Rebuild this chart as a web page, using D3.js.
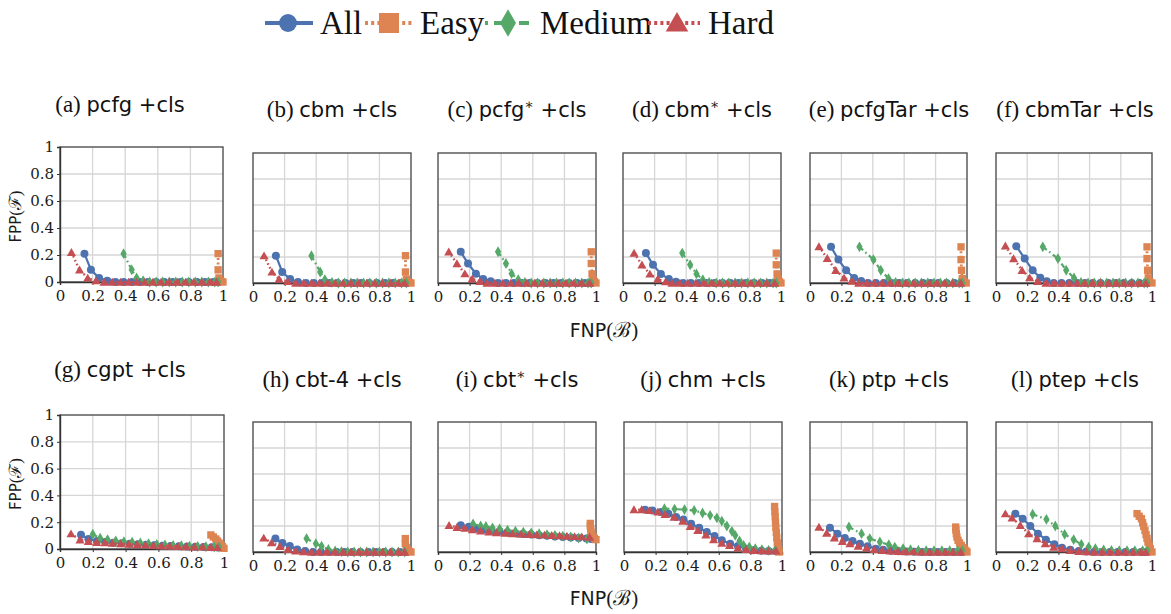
<!DOCTYPE html>
<html>
<head>
<meta charset="utf-8">
<script src="https://cdn.jsdelivr.net/npm/d3@7"></script>
<style>
  body { margin: 0; background: #fff; }
  svg { display: block; }
</style>
</head>
<body>
<svg id="chart" width="1171" height="614"></svg>
<script>
// ---- data -------------------------------------------------------------
const seriesNames = ["All", "Easy", "Medium", "Hard"];
const seriesColors = ["#4C72B0", "#DD8452", "#55A868", "#C44E52"];

const panelLabels = ["(a)", "(b)", "(c)", "(d)", "(e)", "(f)", "(g)", "(h)", "(i)", "(j)", "(k)", "(l)"];
const panelModels = ["pcfg", "cbm", "pcfg", "cbm", "pcfgTar", "cbmTar", "cgpt", "cbt-4", "cbt", "chm", "ptp", "ptep"];
const panelStars = [false, false, true, true, false, false, false, false, true, false, false, false];
const panelSuffix = " +cls";

const tickValues = [0, 0.2, 0.4, 0.6, 0.8, 1];
const tickLabels = ["0", "0.2", "0.4", "0.6", "0.8", "1"];

// each entry: list of [FNP, FPP] points for one panel
const allPoints = [
  [[0.15,0.21],[0.19,0.09],[0.24,0.03],[0.29,0.01],[0.34,0],[0.39,0],[0.44,0],[0.49,0],[0.54,0],[0.59,0],[0.64,0],[0.69,0],[0.74,0],[0.79,0],[0.84,0],[0.89,0],[0.94,0],[0.97,0]],
  [[0.145,0.21],[0.185,0.085],[0.235,0.03],[0.285,0.008],[0.335,0],[0.385,0],[0.435,0],[0.485,0],[0.535,0],[0.585,0],[0.635,0],[0.685,0],[0.735,0],[0.785,0],[0.835,0],[0.885,0],[0.935,0],[0.97,0]],
  [[0.144,0.24],[0.19,0.15],[0.24,0.072],[0.286,0.031],[0.333,0.013],[0.38,0],[0.43,0],[0.48,0],[0.53,0],[0.58,0],[0.63,0],[0.68,0],[0.73,0],[0.78,0],[0.83,0],[0.88,0],[0.93,0],[0.97,0]],
  [[0.145,0.23],[0.19,0.14],[0.24,0.07],[0.29,0.03],[0.335,0.01],[0.38,0],[0.43,0],[0.48,0],[0.53,0],[0.58,0],[0.63,0],[0.68,0],[0.73,0],[0.78,0],[0.83,0],[0.88,0],[0.93,0],[0.97,0]],
  [[0.134,0.278],[0.181,0.18],[0.23,0.098],[0.281,0.039],[0.326,0.015],[0.37,0],[0.42,0],[0.47,0],[0.52,0],[0.57,0],[0.62,0],[0.67,0],[0.72,0],[0.77,0],[0.82,0],[0.87,0],[0.92,0],[0.965,0]],
  [[0.13,0.283],[0.184,0.188],[0.235,0.098],[0.284,0.041],[0.325,0.013],[0.37,0],[0.42,0],[0.47,0],[0.52,0],[0.57,0],[0.62,0],[0.67,0],[0.72,0],[0.77,0],[0.82,0],[0.87,0],[0.92,0],[0.965,0]],
  [[0.128,0.107],[0.173,0.074],[0.225,0.06],[0.275,0.052],[0.325,0.047],[0.375,0.043],[0.425,0.04],[0.475,0.036],[0.525,0.032],[0.575,0.028],[0.625,0.025],[0.675,0.022],[0.725,0.02],[0.775,0.018],[0.825,0.016],[0.875,0.015],[0.925,0.013],[0.96,0.012]],
  [[0.142,0.103],[0.186,0.069],[0.233,0.046],[0.28,0.02],[0.33,0.007],[0.38,0],[0.43,0],[0.48,0],[0.53,0],[0.58,0],[0.63,0],[0.68,0],[0.73,0],[0.78,0],[0.83,0],[0.88,0],[0.93,0],[0.97,0]],
  [[0.144,0.205],[0.195,0.195],[0.244,0.18],[0.29,0.172],[0.34,0.164],[0.39,0.157],[0.44,0.15],[0.49,0.144],[0.54,0.139],[0.59,0.134],[0.64,0.129],[0.69,0.125],[0.74,0.12],[0.79,0.116],[0.84,0.112],[0.89,0.108],[0.94,0.104],[0.97,0.1]],
  [[0.133,0.326],[0.18,0.32],[0.233,0.308],[0.281,0.295],[0.33,0.269],[0.376,0.251],[0.425,0.218],[0.476,0.187],[0.524,0.154],[0.573,0.123],[0.619,0.09],[0.672,0.064],[0.721,0.046],[0.772,0.026],[0.82,0.013],[0.87,0.01],[0.915,0.008],[0.962,0.008]],
  [[0.127,0.187],[0.174,0.141],[0.222,0.108],[0.271,0.085],[0.318,0.064],[0.367,0.044],[0.419,0.026],[0.466,0.018],[0.515,0.01],[0.565,0.006],[0.615,0.004],[0.665,0.002],[0.715,0],[0.765,0],[0.815,0],[0.865,0],[0.915,0],[0.96,0]],
  [[0.124,0.295],[0.171,0.256],[0.22,0.2],[0.269,0.141],[0.32,0.095],[0.374,0.059],[0.423,0.033],[0.476,0.018],[0.53,0.008],[0.58,0.004],[0.63,0.002],[0.68,0],[0.73,0],[0.78,0],[0.83,0],[0.88,0],[0.93,0],[0.96,0]]
];

const easyPoints = [
  [[0.97,0.21],[0.97,0.09],[0.975,0.03],[0.98,0.01],[0.99,0.003],[1.0,0]],
  [[0.965,0.21],[0.965,0.085],[0.97,0.03],[0.98,0.01],[0.99,0.003],[1.0,0]],
  [[0.97,0.24],[0.97,0.15],[0.975,0.07],[0.98,0.03],[0.99,0.01],[1.0,0]],
  [[0.97,0.23],[0.97,0.14],[0.975,0.07],[0.98,0.03],[0.99,0.01],[1.0,0]],
  [[0.962,0.278],[0.962,0.18],[0.965,0.098],[0.97,0.034],[0.98,0.01],[0.995,0]],
  [[0.968,0.278],[0.968,0.188],[0.972,0.098],[0.976,0.039],[0.985,0.01],[1.0,0]],
  [[0.92,0.105],[0.935,0.09],[0.95,0.075],[0.96,0.06],[0.97,0.045],[0.98,0.03],[0.99,0.018],[1.0,0.005]],
  [[0.964,0.103],[0.964,0.064],[0.97,0.035],[0.98,0.015],[0.99,0.004],[1.0,0]],
  [[0.964,0.22],[0.964,0.2],[0.966,0.18],[0.968,0.16],[0.972,0.14],[0.98,0.12],[0.99,0.105],[1.0,0.095]],
  [[0.953,0.35],[0.955,0.31],[0.957,0.27],[0.959,0.23],[0.961,0.19],[0.964,0.15],[0.967,0.11],[0.97,0.07],[0.974,0.04],[0.978,0.015],[0.982,0]],
  [[0.928,0.192],[0.929,0.17],[0.932,0.141],[0.936,0.115],[0.943,0.09],[0.952,0.07],[0.964,0.051],[0.975,0.033],[0.985,0.018],[0.993,0.008],[1.0,0]],
  [[0.904,0.295],[0.918,0.275],[0.932,0.256],[0.94,0.225],[0.947,0.197],[0.955,0.165],[0.962,0.133],[0.968,0.105],[0.974,0.077],[0.982,0.05],[0.989,0.026],[1.0,0]]
];

const mediumPoints = [
  [[0.39,0.21],[0.44,0.09],[0.47,0.03],[0.51,0.01],[0.55,0],[0.59,0],[0.63,0],[0.67,0],[0.71,0],[0.75,0],[0.79,0],[0.83,0],[0.87,0],[0.91,0],[0.95,0],[0.97,0]],
  [[0.37,0.21],[0.425,0.085],[0.455,0.026],[0.5,0.005],[0.54,0],[0.58,0],[0.62,0],[0.66,0],[0.7,0],[0.74,0],[0.78,0],[0.82,0],[0.86,0],[0.9,0],[0.94,0],[0.97,0]],
  [[0.38,0.24],[0.43,0.15],[0.466,0.072],[0.508,0.026],[0.55,0.005],[0.59,0],[0.63,0],[0.67,0],[0.71,0],[0.75,0],[0.79,0],[0.83,0],[0.87,0],[0.91,0],[0.95,0],[0.97,0]],
  [[0.375,0.23],[0.425,0.14],[0.465,0.07],[0.505,0.025],[0.545,0.005],[0.59,0],[0.63,0],[0.67,0],[0.71,0],[0.75,0],[0.79,0],[0.83,0],[0.87,0],[0.91,0],[0.95,0],[0.97,0]],
  [[0.315,0.278],[0.404,0.18],[0.451,0.098],[0.5,0.034],[0.545,0.005],[0.59,0],[0.63,0],[0.67,0],[0.71,0],[0.75,0],[0.79,0],[0.83,0],[0.87,0],[0.91,0],[0.95,0],[0.97,0]],
  [[0.30,0.278],[0.397,0.188],[0.45,0.098],[0.5,0.039],[0.545,0.005],[0.59,0],[0.63,0],[0.67,0],[0.71,0],[0.75,0],[0.79,0],[0.83,0],[0.87,0],[0.91,0],[0.95,0],[0.97,0]],
  [[0.2,0.11],[0.245,0.08],[0.29,0.07],[0.34,0.06],[0.39,0.055],[0.44,0.05],[0.49,0.045],[0.54,0.04],[0.59,0.035],[0.64,0.03],[0.69,0.027],[0.74,0.024],[0.79,0.021],[0.84,0.019],[0.89,0.017],[0.94,0.015],[0.97,0.014]],
  [[0.339,0.103],[0.398,0.064],[0.434,0.044],[0.477,0.02],[0.52,0.008],[0.56,0.003],[0.6,0],[0.64,0],[0.68,0],[0.72,0],[0.76,0],[0.8,0],[0.84,0],[0.88,0],[0.92,0],[0.96,0]],
  [[0.222,0.215],[0.27,0.2],[0.303,0.197],[0.345,0.185],[0.39,0.178],[0.44,0.168],[0.49,0.16],[0.54,0.153],[0.59,0.146],[0.64,0.14],[0.69,0.134],[0.74,0.128],[0.79,0.122],[0.84,0.116],[0.89,0.108],[0.943,0.1]],
  [[0.256,0.333],[0.32,0.33],[0.383,0.326],[0.444,0.32],[0.497,0.3],[0.545,0.282],[0.588,0.262],[0.619,0.238],[0.651,0.2],[0.683,0.159],[0.704,0.128],[0.731,0.085],[0.757,0.051],[0.793,0.038],[0.831,0.026],[0.873,0.018],[0.915,0.013],[0.958,0.013]],
  [[0.248,0.192],[0.328,0.141],[0.381,0.103],[0.445,0.077],[0.502,0.056],[0.54,0.038],[0.593,0.026],[0.64,0.018],[0.69,0.013],[0.74,0.01],[0.79,0.01],[0.84,0.01],[0.89,0.01],[0.94,0.01],[0.97,0.01]],
  [[0.235,0.29],[0.323,0.251],[0.38,0.2],[0.44,0.136],[0.498,0.095],[0.547,0.059],[0.594,0.038],[0.637,0.026],[0.69,0.015],[0.74,0.012],[0.79,0.01],[0.84,0.01],[0.89,0.01],[0.94,0.01],[0.97,0.01]]
];

const hardPoints = [
  [[0.07,0.22],[0.12,0.09],[0.17,0.03],[0.22,0.01],[0.27,0],[0.32,0],[0.37,0],[0.42,0],[0.47,0],[0.52,0],[0.57,0],[0.62,0],[0.67,0],[0.72,0],[0.77,0],[0.82,0],[0.87,0],[0.92,0],[0.96,0]],
  [[0.07,0.21],[0.12,0.085],[0.165,0.03],[0.22,0.012],[0.27,0],[0.32,0],[0.37,0],[0.42,0],[0.47,0],[0.52,0],[0.57,0],[0.62,0],[0.67,0],[0.72,0],[0.77,0],[0.82,0],[0.87,0],[0.92,0],[0.96,0]],
  [[0.068,0.24],[0.12,0.15],[0.17,0.072],[0.216,0.031],[0.265,0.013],[0.31,0],[0.36,0],[0.41,0],[0.46,0],[0.51,0],[0.56,0],[0.61,0],[0.66,0],[0.71,0],[0.76,0],[0.81,0],[0.86,0],[0.91,0],[0.96,0]],
  [[0.07,0.23],[0.12,0.14],[0.17,0.07],[0.22,0.03],[0.27,0.01],[0.31,0],[0.36,0],[0.41,0],[0.46,0],[0.51,0],[0.56,0],[0.61,0],[0.66,0],[0.71,0],[0.76,0],[0.81,0],[0.86,0],[0.91,0],[0.96,0]],
  [[0.057,0.28],[0.11,0.19],[0.164,0.098],[0.217,0.039],[0.266,0.015],[0.31,0],[0.36,0],[0.41,0],[0.46,0],[0.51,0],[0.56,0],[0.61,0],[0.66,0],[0.71,0],[0.76,0],[0.81,0],[0.86,0],[0.91,0],[0.96,0]],
  [[0.06,0.286],[0.113,0.188],[0.167,0.098],[0.216,0.041],[0.267,0.013],[0.32,0],[0.37,0],[0.42,0],[0.47,0],[0.52,0],[0.57,0],[0.62,0],[0.67,0],[0.72,0],[0.77,0],[0.82,0],[0.87,0],[0.92,0],[0.96,0]],
  [[0.067,0.114],[0.122,0.069],[0.173,0.057],[0.224,0.05],[0.274,0.047],[0.32,0.043],[0.37,0.04],[0.42,0.036],[0.47,0.033],[0.52,0.03],[0.57,0.027],[0.62,0.024],[0.67,0.022],[0.72,0.02],[0.77,0.018],[0.82,0.016],[0.87,0.015],[0.92,0.013],[0.96,0.012]],
  [[0.068,0.108],[0.117,0.072],[0.17,0.044],[0.22,0.02],[0.27,0.008],[0.32,0.003],[0.37,0],[0.42,0],[0.47,0],[0.52,0],[0.57,0],[0.62,0],[0.67,0],[0.72,0],[0.77,0],[0.82,0],[0.87,0],[0.92,0],[0.96,0]],
  [[0.07,0.205],[0.12,0.19],[0.17,0.183],[0.218,0.172],[0.269,0.162],[0.322,0.154],[0.37,0.149],[0.424,0.146],[0.472,0.141],[0.525,0.138],[0.578,0.136],[0.625,0.133],[0.674,0.131],[0.72,0.128],[0.769,0.126],[0.816,0.123],[0.864,0.12],[0.91,0.118],[0.96,0.115]],
  [[0.063,0.326],[0.112,0.326],[0.161,0.32],[0.214,0.308],[0.26,0.29],[0.317,0.269],[0.372,0.238],[0.419,0.197],[0.467,0.167],[0.518,0.131],[0.567,0.095],[0.619,0.069],[0.668,0.051],[0.721,0.031],[0.772,0.02],[0.82,0.013],[0.869,0.01],[0.915,0.008],[0.962,0.008]],
  [[0.057,0.192],[0.106,0.146],[0.155,0.108],[0.206,0.082],[0.254,0.064],[0.307,0.046],[0.36,0.031],[0.409,0.02],[0.46,0.013],[0.51,0.008],[0.56,0.005],[0.61,0.003],[0.66,0.002],[0.71,0],[0.76,0],[0.81,0],[0.86,0],[0.91,0],[0.96,0]],
  [[0.06,0.295],[0.103,0.262],[0.156,0.205],[0.209,0.141],[0.263,0.103],[0.316,0.064],[0.37,0.038],[0.423,0.026],[0.476,0.013],[0.53,0.005],[0.58,0.002],[0.63,0],[0.68,0],[0.73,0],[0.78,0],[0.83,0],[0.88,0],[0.93,0],[0.96,0]]
];

// ---- layout -----------------------------------------------------------
const panelBoxes = [
  { x0: 60,  x1: 223,  y0: 147, y1: 282, yAxis: true,  tx: 120,  ty: 112 },
  { x0: 253, x1: 411,  y0: 153, y1: 283, yAxis: false, tx: 332,  ty: 117 },
  { x0: 438, x1: 596,  y0: 153, y1: 283, yAxis: false, tx: 517,  ty: 117 },
  { x0: 623, x1: 781,  y0: 153, y1: 283, yAxis: false, tx: 702,  ty: 117 },
  { x0: 810, x1: 967,  y0: 153, y1: 283, yAxis: false, tx: 889,  ty: 117 },
  { x0: 996, x1: 1152, y0: 153, y1: 283, yAxis: false, tx: 1075, ty: 117 },
  { x0: 60,  x1: 224,  y0: 415, y1: 549, yAxis: true,  tx: 120,  ty: 377 },
  { x0: 253, x1: 411,  y0: 422, y1: 552, yAxis: false, tx: 332,  ty: 387 },
  { x0: 438, x1: 596,  y0: 422, y1: 552, yAxis: false, tx: 517,  ty: 387 },
  { x0: 624, x1: 782,  y0: 422, y1: 552, yAxis: false, tx: 703,  ty: 387 },
  { x0: 810, x1: 967,  y0: 422, y1: 552, yAxis: false, tx: 889,  ty: 387 },
  { x0: 996, x1: 1152, y0: 422, y1: 552, yAxis: false, tx: 1075, ty: 387 }
];

const seriesData = [allPoints, easyPoints, mediumPoints, hardPoints];
const symbolTypes = [d3.symbolCircle, d3.symbolSquare, d3.symbolDiamond, d3.symbolTriangle];
const markerSizes = [50, 54, 34, 36];
const legendMarkerSizes = [250, 400, 220, 220];
const lineWidths = [2.2, 2.8, 2.2, 2.4];
const dashes = [null, "2,2.4", "5,3,1.6,3", "1.6,2.6"];

const serifFont = "'Liberation Serif', 'DejaVu Serif', serif";
const tickFont = "'DejaVu Serif', serif";
const sansFont = "'DejaVu Sans', 'Noto Sans', sans-serif";

const svg = d3.select("#chart");

// ---- legend -----------------------------------------------------------
const legendItems = [
  { lx0: 265, lx1: 313, mx: 288, tx: 320 },
  { lx0: 365, lx1: 412, mx: 389, tx: 420 },
  { lx0: 485, lx1: 532, mx: 508, tx: 540 },
  { lx0: 648, lx1: 700, mx: 677, tx: 708 }
];
const legend = svg.append("g");
seriesNames.forEach((name, i) => {
  const it = legendItems[i];
  legend.append("line")
    .attr("x1", it.lx0).attr("x2", it.lx1).attr("y1", 23).attr("y2", 23)
    .attr("stroke", seriesColors[i]).attr("stroke-width", 3.8)
    .attr("stroke-dasharray", i === 0 ? null : (i === 2 ? "3,6,10,6" : "3,3.2"));
  legend.append("path")
    .attr("d", d3.symbol(symbolTypes[i], legendMarkerSizes[i])())
    .attr("transform", `translate(${it.mx},${i === 3 ? 25 : 23})`)
    .attr("fill", seriesColors[i]);
  legend.append("text")
    .attr("x", it.tx).attr("y", 34)
    .attr("font-family", serifFont).attr("font-size", 33)
    .attr("fill", "#111")
    .text(name);
});

// ---- panels -----------------------------------------------------------
panelBoxes.forEach((b, p) => {
  const x = d3.scaleLinear().domain([0, 1]).range([b.x0, b.x1]);
  const y = d3.scaleLinear().domain([0, 1]).range([b.y1, b.y0]);
  const g = svg.append("g");

  // grid
  g.append("g").selectAll("line.vx").data(tickValues.slice(1, -1)).join("line")
    .attr("x1", d => x(d)).attr("x2", d => x(d))
    .attr("y1", b.y0).attr("y2", b.y1)
    .attr("stroke", "#d6d6d6").attr("stroke-width", 1.3);
  g.append("g").selectAll("line.hy").data(tickValues.slice(1, -1)).join("line")
    .attr("x1", b.x0).attr("x2", b.x1)
    .attr("y1", d => y(d)).attr("y2", d => y(d))
    .attr("stroke", "#d6d6d6").attr("stroke-width", 1.3);

  // frame
  g.append("rect")
    .attr("x", b.x0).attr("y", b.y0)
    .attr("width", b.x1 - b.x0).attr("height", b.y1 - b.y0)
    .attr("fill", "none").attr("stroke", "#505050").attr("stroke-width", 1.4);

  // axes
  const xAxis = g.append("g")
    .attr("transform", `translate(0,${b.y1})`)
    .call(d3.axisBottom(x).tickValues(tickValues).tickFormat((d, i) => tickLabels[i])
      .tickSize(3).tickPadding(5));
  xAxis.select(".domain").attr("stroke", "#333").attr("stroke-width", 1.4);
  xAxis.selectAll("line").attr("stroke", "#333");
  xAxis.selectAll("text").attr("font-family", tickFont).attr("font-size", 15).attr("fill", "#1a1a1a");

  if (b.yAxis) {
    const yAxis = g.append("g")
      .attr("transform", `translate(${b.x0},0)`)
      .call(d3.axisLeft(y).tickValues(tickValues).tickFormat((d, i) => tickLabels[i])
        .tickSize(3).tickPadding(3));
    yAxis.select(".domain").attr("stroke", "#333").attr("stroke-width", 1.4);
    yAxis.selectAll("line").attr("stroke", "#333");
    yAxis.selectAll("text").attr("font-family", tickFont).attr("font-size", 15).attr("fill", "#1a1a1a");

    const yl = g.append("text")
      .attr("transform", `translate(21,${(b.y0 + b.y1) / 2 + 2}) rotate(-90)`)
      .attr("text-anchor", "middle").attr("font-size", 15).attr("fill", "#1a1a1a");
    yl.append("tspan").attr("font-family", sansFont).text("FPP");
    yl.append("tspan").attr("font-family", serifFont).attr("font-size", 17).text("(\u2131)");
  }

  // series
  seriesData.forEach((data, s) => {
    const pts = data[p];
    g.append("path")
      .datum(pts)
      .attr("d", d3.line().x(d => x(d[0])).y(d => y(d[1])))
      .attr("fill", "none")
      .attr("stroke", seriesColors[s])
      .attr("stroke-width", lineWidths[s])
      .attr("stroke-dasharray", dashes[s]);
    g.append("g").selectAll("path").data(pts).join("path")
      .attr("d", d3.symbol(symbolTypes[s], markerSizes[s])())
      .attr("transform", d => `translate(${x(d[0])},${y(d[1]) + (s === 3 ? 1 : 0)})`)
      .attr("fill", seriesColors[s]);
  });

  // title
  const t = g.append("text")
    .attr("x", b.tx).attr("y", b.ty)
    .attr("text-anchor", "middle").attr("font-size", 21).attr("fill", "#111");
  t.append("tspan").attr("font-family", serifFont).attr("font-size", 23).text(panelLabels[p] + " ");
  t.append("tspan").attr("font-family", sansFont).text(panelModels[p]);
  if (panelStars[p]) {
    t.append("tspan").attr("font-family", serifFont).attr("font-size", 14).attr("dy", -8).text("\u2217");
    t.append("tspan").attr("font-family", sansFont).attr("dy", 8).text(panelSuffix);
  } else {
    t.append("tspan").attr("font-family", sansFont).text(panelSuffix);
  }
});

// shared x-axis captions
[337, 605].forEach(yy => {
  const xl = svg.append("text")
    .attr("x", 604).attr("y", yy)
    .attr("text-anchor", "middle").attr("font-size", 19).attr("fill", "#1a1a1a");
  xl.append("tspan").attr("font-family", sansFont).text("FNP");
  xl.append("tspan").attr("font-family", serifFont).attr("font-size", 21).text("(\u212C)");
});
</script>
</body>
</html>
